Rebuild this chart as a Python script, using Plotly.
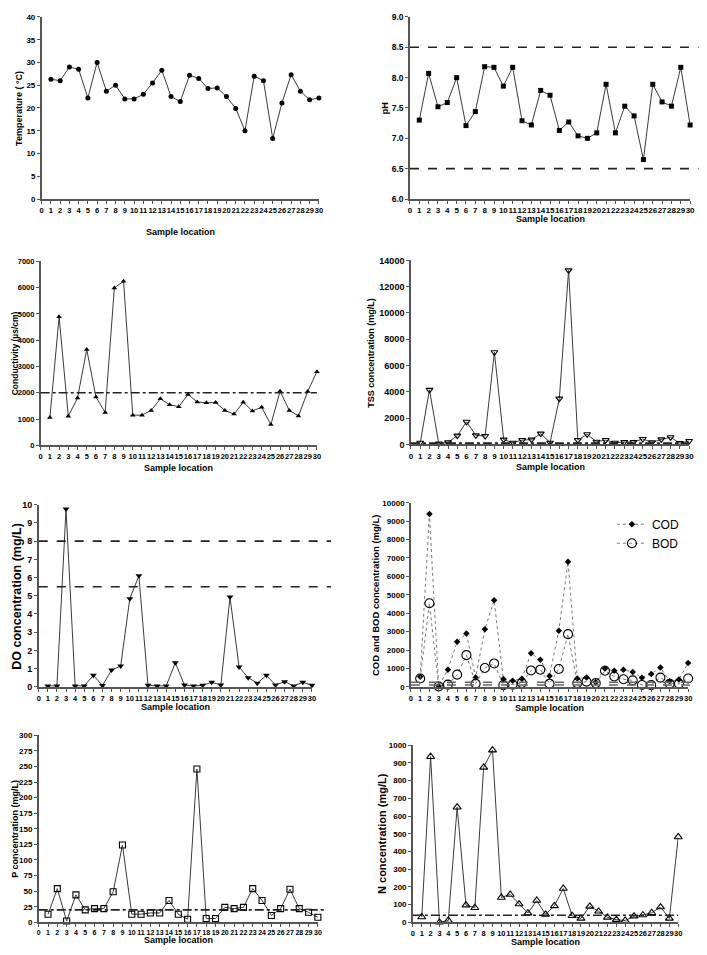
import plotly.graph_objects as go

# Target picture size in px; the html page adds an 8px body margin, so the
# figure itself is shrunk by that much and all px positions are offset.
W, H = 707, 955
OFF = 8
FIG_W, FIG_H = W - OFF, H - OFF

LOCATIONS = list(range(1, 31))

TEMPERATURE = [26.3, 26.0, 29.0, 28.5, 22.2, 30.0, 23.7, 25.0, 22.0, 22.0,
               23.0, 25.5, 28.3, 22.5, 21.4, 27.2, 26.5, 24.3, 24.4, 22.5,
               19.9, 15.0, 27.0, 26.0, 13.3, 21.1, 27.3, 23.7, 21.8, 22.2]

PH = [7.30, 8.07, 7.52, 7.59, 8.00, 7.21, 7.44, 8.18, 8.17, 7.86,
      8.17, 7.29, 7.22, 7.79, 7.71, 7.13, 7.27, 7.04, 7.00, 7.09,
      7.89, 7.09, 7.53, 7.37, 6.65, 7.89, 7.60, 7.53, 8.17, 7.22]
PH_LIMITS = [8.5, 6.5]

CONDUCTIVITY = [1060, 4890, 1110, 1800, 3650, 1840, 1250, 5990, 6240, 1150,
                1150, 1330, 1770, 1550, 1470, 1940, 1650, 1620, 1630, 1330,
                1190, 1640, 1310, 1450, 790, 2060, 1330, 1120, 2050, 2800]
CONDUCTIVITY_LIMIT = 2000

TSS = [130, 4150, 60, 150, 670, 1720, 690, 640, 7010, 360,
       130, 330, 360, 820, 130, 3480, 13240, 330, 770, 200,
       330, 130, 180, 180, 410, 150, 380, 540, 100, 260]
TSS_LIMIT = 100

DO = [0.05, 0.05, 9.76, 0.05, 0.05, 0.63, 0.07, 0.92, 1.14, 4.84,
      6.10, 0.08, 0.05, 0.05, 1.32, 0.10, 0.05, 0.08, 0.25, 0.10,
      4.93, 1.09, 0.50, 0.20, 0.63, 0.10, 0.28, 0.05, 0.25, 0.08]
DO_LIMITS = [8.0, 5.5]

COD = [550, 9390, 50, 930, 2450, 2900, 510, 3130, 4700, 420,
       330, 440, 1820, 1470, 590, 3040, 6800, 450, 500, 250,
       1000, 870, 920, 800, 490, 700, 1050, 300, 400, 1300]
BOD = [450, 4540, 20, 120, 660, 1720, 170, 1020, 1270, 90,
       120, 210, 890, 930, 170, 970, 2860, 200, 280, 200,
       870, 560, 410, 350, 100, 90, 500, 170, 170, 450]
COD_BOD_LIMITS = [250, 100]

P = [13, 54, 2, 44, 20, 22, 22, 49, 124, 13,
     13, 15, 15, 35, 13, 5, 246, 6, 6, 24,
     22, 24, 54, 35, 11, 22, 53, 22, 16, 8]
P_LIMIT = 20

N = [30, 935, 0, 10, 650, 97, 82, 875, 972, 140,
     157, 103, 52, 123, 45, 93, 191, 37, 22, 90,
     62, 28, 15, 10, 35, 41, 54, 86, 22, 482]
N_LIMIT = 40

FONT = "Liberation Sans"
AXIS_COLOR = "#555555"
LINE_COLOR = "#3a3a3a"


def px_x(v):
    return (v - OFF) / FIG_W


def px_y(v):
    return 1 - (v - OFF) / FIG_H


# (left, right, top, bottom) of each plot area in page px, plus styling
panels = [
    dict(box=(40, 320, 12, 196), yrange=[0, 40], dtick=5, fmt="d", yfont=8, xfont=7.5,
         ytitle="Temperature ( °C)", ytitle_x=17, ytitle_size=9, xtitle_y=229,
         series=[dict(y=TEMPERATURE, symbol="circle", size=5)]),
    dict(box=(412, 695, 12, 196), yrange=[6, 9], dtick=0.5, fmt=".1f", yfont=8.5, xfont=8,
         ytitle="pH", ytitle_x=387, ytitle_size=9, xtitle_y=216,
         series=[dict(y=PH, symbol="square", size=5)],
         limits=[(v, "dash", 1.03) for v in PH_LIMITS]),
    dict(box=(39, 318, 259, 445), yrange=[0, 7000], dtick=1000, fmt="d", yfont=7.5, xfont=7.5,
         ytitle="Conductivity (µs/cm)", ytitle_x=13, ytitle_size=8.5, xtitle_y=468,
         series=[dict(y=CONDUCTIVITY, symbol="triangle-up", size=5)],
         limits=[(CONDUCTIVITY_LIMIT, "dashdot", 1.0)]),
    dict(box=(413, 694, 258, 444), yrange=[0, 14000], dtick=2000, fmt="d", yfont=9, xfont=8,
         ytitle="TSS concentration (mg/L)", ytitle_x=373, ytitle_size=9, xtitle_y=467,
         series=[dict(y=TSS, symbol="triangle-down-open", size=6)],
         limits=[(TSS_LIMIT, "dashdot", 1.0)]),
    dict(box=(37, 313, 505, 689), yrange=[0, 10], dtick=1, fmt="d", yfont=9, xfont=7.5,
         ytitle="DO concentration (mg/L)", ytitle_x=15, ytitle_size=12.5, xtitle_y=709,
         series=[dict(y=DO, symbol="triangle-down", size=6)],
         limits=[(v, "dash", 1.07) for v in DO_LIMITS]),
    dict(box=(413, 693, 503, 689), yrange=[0, 10000], dtick=1000, fmt="d", yfont=8, xfont=7.5,
         ytitle="COD and BOD concentration (mg/L)", ytitle_x=377, ytitle_size=9.5,
         xtitle_y=710,
         series=[dict(y=COD, symbol="diamond", size=5, name="COD", dash="dot"),
                 dict(y=BOD, symbol="circle-open", size=9, name="BOD", dash="dot")],
         limits=[(v, "dash", 1.02) for v in COD_BOD_LIMITS]),
    dict(box=(37, 319, 738, 927), yrange=[0, 300], dtick=25, fmt="d", yfont=8, xfont=7,
         ytitle="P concentration (mg/L)", ytitle_x=13, ytitle_size=9, xtitle_y=945,
         series=[dict(y=P, symbol="square-open", size=6)],
         limits=[(P_LIMIT, "dashdot", 1.03)]),
    dict(box=(415, 683, 748, 927), yrange=[0, 1000], dtick=100, fmt="d", yfont=8, xfont=7.5,
         ytitle="N concentration (mg/L)", ytitle_x=383, ytitle_size=11, xtitle_y=947,
         series=[dict(y=N, symbol="triangle-up-open", size=7)],
         limits=[(N_LIMIT, "dashdot", 1.0)]),
]

fig = go.Figure()
layout = {}
annotations = []
shapes = []

for i, pan in enumerate(panels, start=1):
    sfx = "" if i == 1 else str(i)
    left, right, top, bottom = pan["box"]
    xdom = [px_x(left), px_x(right)]
    ydom = [px_y(bottom), min(1.0, px_y(top))]

    axis_common = dict(
        showline=True, linecolor=AXIS_COLOR, linewidth=1.5,
        ticks="outside", ticklen=3, tickwidth=1, tickcolor=AXIS_COLOR,
        showgrid=False, zeroline=False, fixedrange=True, tickangle=0,
    )
    layout["xaxis" + sfx] = dict(
        domain=xdom, anchor="y" + sfx, range=[0, 30],
        tickmode="array", tickvals=list(range(0, 31)),
        tickfont=dict(family=FONT, size=pan["xfont"], color="black", weight="bold"),
        **axis_common,
    )
    layout["yaxis" + sfx] = dict(
        domain=ydom, anchor="x" + sfx, range=pan["yrange"],
        dtick=pan["dtick"], tick0=pan["yrange"][0], tickformat=pan["fmt"],
        tickfont=dict(family=FONT, size=pan["yfont"], color="black", weight="bold"),
        **axis_common,
    )

    for s in pan["series"]:
        is_open = s["symbol"].endswith("open")
        fig.add_trace(go.Scatter(
            x=LOCATIONS, y=s["y"], mode="lines+markers",
            xaxis="x" + sfx, yaxis="y" + sfx,
            name=s.get("name", ""), showlegend="name" in s,
            line=dict(color="#777777" if "dash" in s else LINE_COLOR,
                      width=1, dash=s.get("dash", "solid")),
            marker=dict(symbol=s["symbol"], size=s["size"], color="black",
                        line=dict(color="#222222", width=1.1 if is_open else 0)),
            cliponaxis=False,
        ))

    for val, dash, ext in pan.get("limits", []):
        shapes.append(dict(
            type="line", xref=f"x{sfx} domain", yref="y" + sfx,
            x0=0, x1=ext, y0=val, y1=val,
            line=dict(color="#222222" if i != 6 else "#666666",
                      width=1.6, dash=dash),
        ))

    # axis titles placed by pixel position
    annotations.append(dict(
        text=pan["ytitle"], textangle=-90, showarrow=False,
        xref="paper", yref="paper",
        x=px_x(pan["ytitle_x"]), y=(px_y(bottom) + px_y(top)) / 2,
        xanchor="center", yanchor="middle",
        font=dict(family=FONT, size=pan["ytitle_size"], color="black", weight="bold"),
    ))
    annotations.append(dict(
        text="Sample location", showarrow=False,
        xref="paper", yref="paper",
        x=(xdom[0] + xdom[1]) / 2, y=px_y(pan["xtitle_y"]),
        xanchor="center", yanchor="middle",
        font=dict(family=FONT, size=9, color="black", weight="bold"),
    ))

fig.update_layout(
    width=FIG_W, height=FIG_H,
    margin=dict(l=0, r=0, t=0, b=0),
    paper_bgcolor="white", plot_bgcolor="white",
    annotations=annotations, shapes=shapes,
    legend=dict(
        x=px_x(616), y=px_y(510), xanchor="left", yanchor="top",
        font=dict(family=FONT, size=12, color="black"),
        bgcolor="rgba(0,0,0,0)", itemwidth=30,
    ),
    **layout,
)

fig.write_html("out.html")
